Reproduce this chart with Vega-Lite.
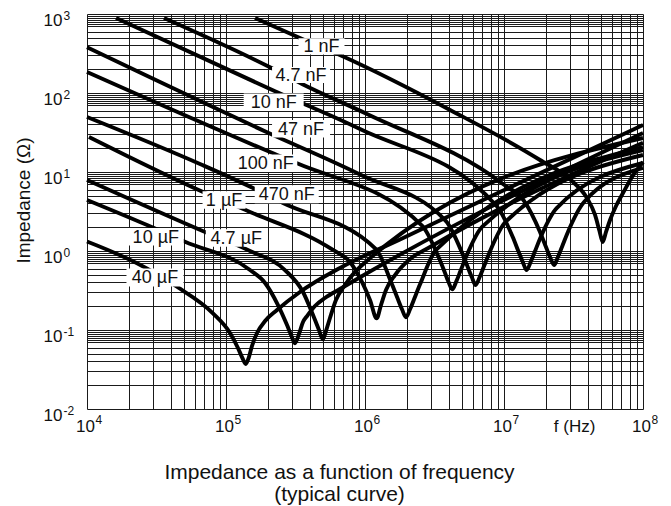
{
  "$schema": "https://vega.github.io/schema/vega-lite/v6.json",
  "width": 556,
  "height": 395,
  "autosize": {"type": "none"},
  "padding": {"left": 87, "top": 14, "right": 28, "bottom": 97},
  "background": "white",
  "config": {"view": {"stroke": null}, "font": "Liberation Sans"},
  "datasets": {
    "curves": [
      {"cap": "40 µF", "f": 10000, "z": 1.318},
      {"cap": "40 µF", "f": 22910, "z": 0.698},
      {"cap": "40 µF", "f": 44360, "z": 0.353},
      {"cap": "40 µF", "f": 80540, "z": 0.1626},
      {"cap": "40 µF", "f": 106900, "z": 0.0916},
      {"cap": "40 µF", "f": 121900, "z": 0.0592},
      {"cap": "40 µF", "f": 130300, "z": 0.0455},
      {"cap": "40 µF", "f": 138700, "z": 0.03715},
      {"cap": "40 µF", "f": 146200, "z": 0.0455},
      {"cap": "40 µF", "f": 153800, "z": 0.0627},
      {"cap": "40 µF", "f": 167100, "z": 0.0916},
      {"cap": "40 µF", "f": 191000, "z": 0.130},
      {"cap": "40 µF", "f": 232800, "z": 0.179},
      {"cap": "40 µF", "f": 340400, "z": 0.303},
      {"cap": "40 µF", "f": 660700, "z": 0.610},
      {"cap": "40 µF", "f": 1786000, "z": 1.400},
      {"cap": "40 µF", "f": 9354000, "z": 5.585},
      {"cap": "40 µF", "f": 100000000, "z": 39.36},

      {"cap": "10 µF", "f": 10000, "z": 4.426},
      {"cap": "10 µF", "f": 27040, "z": 2.133},
      {"cap": "10 µF", "f": 50700, "z": 1.312},
      {"cap": "10 µF", "f": 148900, "z": 0.574},
      {"cap": "10 µF", "f": 191000, "z": 0.394},
      {"cap": "10 µF", "f": 236600, "z": 0.207},
      {"cap": "10 µF", "f": 274800, "z": 0.1156},
      {"cap": "10 µF", "f": 293800, "z": 0.0865},
      {"cap": "10 µF", "f": 313300, "z": 0.0679},
      {"cap": "10 µF", "f": 335000, "z": 0.0889},
      {"cap": "10 µF", "f": 358100, "z": 0.1262},
      {"cap": "10 µF", "f": 382800, "z": 0.1503},
      {"cap": "10 µF", "f": 436500, "z": 0.2014},
      {"cap": "10 µF", "f": 515200, "z": 0.2541},
      {"cap": "10 µF", "f": 660700, "z": 0.3304},
      {"cap": "10 µF", "f": 100000000, "z": 31.19},

      {"cap": "4.7 µF", "f": 10000, "z": 7.925},
      {"cap": "4.7 µF", "f": 70630, "z": 1.742},
      {"cap": "4.7 µF", "f": 148900, "z": 1.0},
      {"cap": "4.7 µF", "f": 265500, "z": 0.574},
      {"cap": "4.7 µF", "f": 358100, "z": 0.3027},
      {"cap": "4.7 µF", "f": 422700, "z": 0.1549},
      {"cap": "4.7 µF", "f": 466700, "z": 0.1},
      {"cap": "4.7 µF", "f": 496600, "z": 0.0762},
      {"cap": "4.7 µF", "f": 523600, "z": 0.097},
      {"cap": "4.7 µF", "f": 559800, "z": 0.1419},
      {"cap": "4.7 µF", "f": 618000, "z": 0.2399},
      {"cap": "4.7 µF", "f": 717800, "z": 0.3715},
      {"cap": "4.7 µF", "f": 920400, "z": 0.6266},
      {"cap": "4.7 µF", "f": 100000000, "z": 26.92},

      {"cap": "1 µF", "f": 10330, "z": 27.73},
      {"cap": "1 µF", "f": 68390, "z": 5.585},
      {"cap": "1 µF", "f": 148900, "z": 3.119},
      {"cap": "1 µF", "f": 588800, "z": 1.03},
      {"cap": "1 µF", "f": 779800, "z": 0.7261},
      {"cap": "1 µF", "f": 950600, "z": 0.4055},
      {"cap": "1 µF", "f": 1086000, "z": 0.2399},
      {"cap": "1 µF", "f": 1213000, "z": 0.1406},
      {"cap": "1 µF", "f": 1303000, "z": 0.207},
      {"cap": "1 µF", "f": 1416000, "z": 0.3206},
      {"cap": "1 µF", "f": 1644000, "z": 0.4966},
      {"cap": "1 µF", "f": 2109000, "z": 0.7925},
      {"cap": "1 µF", "f": 2938000, "z": 1.125},
      {"cap": "1 µF", "f": 100000000, "z": 23.5},

      {"cap": "470 nF", "f": 10000, "z": 49.66},
      {"cap": "470 nF", "f": 65010, "z": 12.62},
      {"cap": "470 nF", "f": 156300, "z": 6.266},
      {"cap": "470 nF", "f": 257000, "z": 4.055},
      {"cap": "470 nF", "f": 1199000, "z": 1.059},
      {"cap": "470 nF", "f": 1563000, "z": 0.3784},
      {"cap": "470 nF", "f": 1726000, "z": 0.2449},
      {"cap": "470 nF", "f": 1845000, "z": 0.1828},
      {"cap": "470 nF", "f": 1972000, "z": 0.1449},
      {"cap": "470 nF", "f": 2109000, "z": 0.1828},
      {"cap": "470 nF", "f": 2254000, "z": 0.2449},
      {"cap": "470 nF", "f": 2489000, "z": 0.3784},
      {"cap": "470 nF", "f": 3243000, "z": 1.03},
      {"cap": "470 nF", "f": 100000000, "z": 20.7},

      {"cap": "100 nF", "f": 10000, "z": 184.5},
      {"cap": "100 nF", "f": 207500, "z": 17.91},
      {"cap": "100 nF", "f": 324300, "z": 12.88},
      {"cap": "100 nF", "f": 2582000, "z": 2.084},
      {"cap": "100 nF", "f": 3365000, "z": 0.857},
      {"cap": "100 nF", "f": 3724000, "z": 0.5534},
      {"cap": "100 nF", "f": 3972000, "z": 0.413},
      {"cap": "100 nF", "f": 4246000, "z": 0.3273},
      {"cap": "100 nF", "f": 4539000, "z": 0.413},
      {"cap": "100 nF", "f": 4853000, "z": 0.5534},
      {"cap": "100 nF", "f": 5358000, "z": 0.857},
      {"cap": "100 nF", "f": 6982000, "z": 2.032},
      {"cap": "100 nF", "f": 100000000, "z": 18.97},

      {"cap": "47 nF", "f": 10000, "z": 378.4},
      {"cap": "47 nF", "f": 197200, "z": 31.84},
      {"cap": "47 nF", "f": 920400, "z": 9.29},
      {"cap": "47 nF", "f": 3811000, "z": 2.41},
      {"cap": "47 nF", "f": 4966000, "z": 0.9705},
      {"cap": "47 nF", "f": 5483000, "z": 0.6266},
      {"cap": "47 nF", "f": 5861000, "z": 0.4688},
      {"cap": "47 nF", "f": 6252000, "z": 0.3715},
      {"cap": "47 nF", "f": 6683000, "z": 0.4688},
      {"cap": "47 nF", "f": 7145000, "z": 0.6266},
      {"cap": "47 nF", "f": 7889000, "z": 0.9705},
      {"cap": "47 nF", "f": 10280000, "z": 2.35},
      {"cap": "47 nF", "f": 100000000, "z": 16.41},

      {"cap": "10 nF", "f": 16180, "z": 889.2},
      {"cap": "10 nF", "f": 225400, "z": 105.2},
      {"cap": "10 nF", "f": 920400, "z": 34.99},
      {"cap": "10 nF", "f": 8851000, "z": 3.715},
      {"cap": "10 nF", "f": 11560000, "z": 1.503},
      {"cap": "10 nF", "f": 12760000, "z": 0.9705},
      {"cap": "10 nF", "f": 13650000, "z": 0.7261},
      {"cap": "10 nF", "f": 14550000, "z": 0.5741},
      {"cap": "10 nF", "f": 15560000, "z": 0.7261},
      {"cap": "10 nF", "f": 16630000, "z": 0.9705},
      {"cap": "10 nF", "f": 18370000, "z": 1.503},
      {"cap": "10 nF", "f": 23930000, "z": 3.499},
      {"cap": "10 nF", "f": 100000000, "z": 13.0},

      {"cap": "4.7 nF", "f": 35810, "z": 889.2},
      {"cap": "4.7 nF", "f": 207500, "z": 211.3},
      {"cap": "4.7 nF", "f": 352400, "z": 130.0},
      {"cap": "4.7 nF", "f": 1033000, "z": 54.2},
      {"cap": "4.7 nF", "f": 9840000, "z": 7.047},
      {"cap": "4.7 nF", "f": 13930000, "z": 4.315},
      {"cap": "4.7 nF", "f": 18160000, "z": 1.742},
      {"cap": "4.7 nF", "f": 20040000, "z": 1.125},
      {"cap": "4.7 nF", "f": 21430000, "z": 0.8395},
      {"cap": "4.7 nF", "f": 22910000, "z": 0.6653},
      {"cap": "4.7 nF", "f": 24430000, "z": 0.8395},
      {"cap": "4.7 nF", "f": 26120000, "z": 1.125},
      {"cap": "4.7 nF", "f": 28840000, "z": 1.742},
      {"cap": "4.7 nF", "f": 37670000, "z": 4.169},
      {"cap": "4.7 nF", "f": 100000000, "z": 11.25},

      {"cap": "1 nF", "f": 161800, "z": 889.2},
      {"cap": "1 nF", "f": 340400, "z": 496.6},
      {"cap": "1 nF", "f": 683900, "z": 293.8},
      {"cap": "1 nF", "f": 4093000, "z": 60.95},
      {"cap": "1 nF", "f": 18160000, "z": 14.19},
      {"cap": "1 nF", "f": 30830000, "z": 7.691},
      {"cap": "1 nF", "f": 39540000, "z": 4.688},
      {"cap": "1 nF", "f": 45190000, "z": 2.858},
      {"cap": "1 nF", "f": 48640000, "z": 1.791},
      {"cap": "1 nF", "f": 51290000, "z": 1.3},
      {"cap": "1 nF", "f": 54200000, "z": 1.742},
      {"cap": "1 nF", "f": 57940000, "z": 2.466},
      {"cap": "1 nF", "f": 63970000, "z": 3.715},
      {"cap": "1 nF", "f": 71780000, "z": 5.42},
      {"cap": "1 nF", "f": 83370000, "z": 8.65},
      {"cap": "1 nF", "f": 100000000, "z": 13.4}
    ],
    "labels": [
      {"label": "1 nF", "f": 486400, "z": 388.1},
      {"label": "4.7 nF", "f": 346700, "z": 169.0},
      {"label": "10 nF", "f": 220300, "z": 76.21},
      {"label": "47 nF", "f": 346700, "z": 35.32},
      {"label": "100 nF", "f": 193200, "z": 12.88},
      {"label": "470 nF", "f": 273500, "z": 5.236},
      {"label": "1 µF", "f": 96830, "z": 4.426},
      {"label": "4.7 µF", "f": 118600, "z": 1.462},
      {"label": "10 µF", "f": 31260, "z": 1.517},
      {"label": "40 µF", "f": 30830, "z": 0.4624}
    ]
  },
  "resolve": {"scale": {"x": "independent", "y": "independent"}},
  "layer": [
    {
      "data": {"name": "curves"},
      "mark": {"type": "line", "color": "#000000", "strokeWidth": 3.9, "interpolate": "monotone"},
      "encoding": {
        "x": {
          "field": "f", "type": "quantitative",
          "scale": {"type": "log", "domain": [10000, 100000000], "nice": false},
          "axis": {
            "orient": "bottom", "grid": true, "labels": false, "ticks": false, "domain": false, "title": null,
            "gridColor": "#1a1a1a", "gridWidth": 1, "gridOpacity": 1,
            "values": [10000,20000,30000,40000,50000,60000,70000,80000,90000,100000,200000,300000,400000,500000,600000,700000,800000,900000,1000000,2000000,3000000,4000000,5000000,6000000,7000000,8000000,9000000,10000000,20000000,30000000,40000000,50000000,60000000,70000000,80000000,90000000,100000000]
          }
        },
        "y": {
          "field": "z", "type": "quantitative",
          "scale": {"type": "log", "domain": [0.01, 1000], "nice": false},
          "axis": {
            "orient": "left", "grid": true, "labels": false, "ticks": false, "domain": false, "title": null,
            "gridColor": "#1a1a1a", "gridWidth": 1, "gridOpacity": 1,
            "values": [0.01,0.02,0.03,0.04,0.05,0.06,0.07,0.075,0.08,0.085,0.09,0.095,0.1,0.2,0.3,0.4,0.5,0.6,0.7,0.75,0.8,0.85,0.9,0.95,1,2,3,4,5,6,7,7.5,8,8.5,9,9.5,10,20,30,40,50,60,70,75,80,85,90,95,100,200,300,400,500,600,700,750,800,850,900,950,1000]
          }
        },
        "detail": {"field": "cap", "type": "nominal"}
      }
    },
    {
      "data": {"name": "labels"},
      "mark": {"type": "point", "filled": true, "fill": "#ffffff", "strokeWidth": 0, "opacity": 1, "size": 3600},
      "encoding": {
        "x": {
          "field": "f", "type": "quantitative",
          "scale": {"type": "log", "domain": [10000, 100000000], "nice": false},
          "axis": {
            "orient": "bottom", "grid": false, "ticks": false, "domain": false,
            "values": [10000, 100000, 1000000, 10000000, 33000000, 100000000],
            "labelExpr": "datum.value > 20000000 && datum.value < 50000000 ? 'f (Hz)' : '10'",
            "labelFontSize": 17, "labelColor": "#111111", "labelPadding": 9, "labelOffset": -2,
            "labelFlush": false, "labelOverlap": false, "labelBound": false,
            "title": ["Impedance as a function of frequency", "(typical curve)"],
            "titleFontSize": 21, "titleFontWeight": "normal", "titleColor": "#111111",
            "titleX": 252, "titleY": 69, "titleAlign": "center", "titleBaseline": "alphabetic", "titleLineHeight": 22
          }
        },
        "y": {
          "field": "z", "type": "quantitative",
          "scale": {"type": "log", "domain": [0.01, 1000], "nice": false},
          "axis": {
            "orient": "left", "grid": false, "ticks": false, "domain": false,
            "values": [0.01, 0.1, 1, 10, 100, 1000],
            "labelExpr": "'10'",
            "labelFontSize": 17, "labelColor": "#111111", "labelPadding": 25, "labelAlign": "right", "labelBaseline": "middle", "labelOffset": 6,
            "labelFlush": false, "labelOverlap": false, "labelBound": false,
            "title": "Impedance (Ω)", "titleFontSize": 19, "titleFontWeight": "normal", "titleColor": "#111111",
            "titleX": -64, "titleY": 186, "titleAngle": -90, "titleAlign": "center", "titleBaseline": "middle"
          }
        },
        "shape": {
          "field": "label", "type": "nominal", "legend": null,
          "scale": {
            "domain": ["1 nF", "4.7 nF", "10 nF", "47 nF", "100 nF", "470 nF", "1 µF", "4.7 µF", "10 µF", "40 µF"],
            "range": [
              "M-0.767,-0.27H0.767V0.27H-0.767Z",
              "M-0.967,-0.27H0.967V0.27H-0.967Z",
              "M-1,-0.29H1V0.29H-1Z",
              "M-0.967,-0.29H0.967V0.29H-0.967Z",
              "M-1.05,-0.29H1.05V0.29H-1.05Z",
              "M-1.067,-0.3H1.067V0.3H-1.067Z",
              "M-0.717,-0.29H0.717V0.29H-0.717Z",
              "M-1.017,-0.29H1.017V0.29H-1.017Z",
              "M-0.933,-0.29H0.933V0.29H-0.933Z",
              "M-0.95,-0.3H0.95V0.3H-0.95Z"
            ]
          }
        }
      }
    },
    {
      "data": {"name": "labels"},
      "mark": {"type": "text", "fontSize": 18, "color": "#111111", "align": "center", "baseline": "middle", "dy": 1},
      "encoding": {
        "x": {
          "field": "f", "type": "quantitative",
          "scale": {"type": "log", "domain": [10000, 100000000], "nice": false},
          "axis": {
            "orient": "bottom", "grid": false, "ticks": false, "domain": false, "title": null,
            "values": [10000, 100000, 1000000, 10000000, 100000000],
            "labelExpr": "'' + round(log(datum.value) / LN10)",
            "labelFontSize": 12, "labelColor": "#111111", "labelAlign": "left", "labelBaseline": "top", "labelPadding": 5, "labelOffset": 8,
            "labelFlush": false, "labelOverlap": false, "labelBound": false
          }
        },
        "y": {
          "field": "z", "type": "quantitative",
          "scale": {"type": "log", "domain": [0.01, 1000], "nice": false},
          "axis": {
            "orient": "left", "grid": false, "ticks": false, "domain": false, "title": null,
            "values": [0.01, 0.1, 1, 10, 100, 1000],
            "labelExpr": "'' + round(log(datum.value) / LN10)",
            "labelFontSize": 12, "labelColor": "#111111", "labelAlign": "left", "labelBaseline": "middle", "labelPadding": 24, "labelOffset": 1,
            "labelFlush": false, "labelOverlap": false, "labelBound": false
          }
        },
        "text": {"field": "label", "type": "nominal"}
      }
    }
  ]
}
